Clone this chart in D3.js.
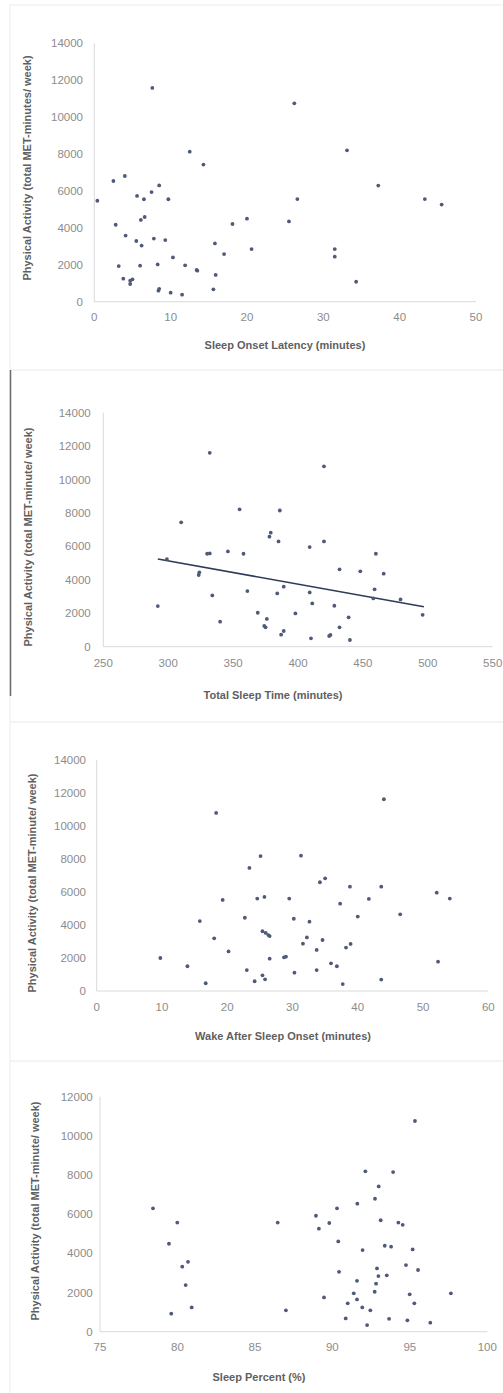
<!DOCTYPE html>
<html>
<head>
<meta charset="utf-8">
<script src="https://cdn.jsdelivr.net/npm/d3@7"></script>
<style>
  html, body { margin: 0; padding: 0; background: #fff; }
  svg { display: block; font-family: "Liberation Sans", Arial, sans-serif; }
</style>
</head>
<body>
<svg id="chart" width="503" height="1393"></svg>
<script>
// ---------- DATA ----------
// Panel 1: Sleep Onset Latency (minutes) vs Physical Activity
const solX = [0.4,2.5,4.0,2.8,4.1,3.2,3.8,4.7,4.7,5.0,5.6,5.5,6.2,6.0,6.1,6.6,6.5,7.5,7.6,7.8,8.5,8.3,8.4,8.5,9.3,9.7,10.0,10.3,11.5,11.9,12.5,13.4,13.5,14.3,15.6,15.8,15.9,17.0,18.1,20.0,20.6,25.5,26.2,26.6,31.5,31.5,33.1,34.3,37.2,43.3,45.5];
const solY = [5470,6540,6810,4170,3580,1930,1250,1140,960,1210,5730,3290,3040,1950,4430,4590,5550,5940,11580,3420,6300,2020,600,700,3340,5550,490,2400,380,1970,8130,1720,1680,7430,670,3160,1450,2580,4210,4500,2850,4350,10750,5560,2850,2440,8200,1080,6290,5560,5260];

// Panel 2: Total Sleep Time (minutes) vs Physical Activity
const tstX = [292,299,310,323.5,324,330,332,332,334,340,346,355,358,361,369,376,374,375,379,378,385,386,384,387,389,389,398,409,409,410,411,420,420,428,425,424,432,432,439,440,448,460,459,466,458,479,496];
const tstY = [2430,5240,7440,4290,4450,5560,5580,11600,3070,1500,5700,8220,5560,3330,2030,1660,1240,1160,6820,6580,6300,8150,3190,720,940,3590,1990,5960,3250,500,2590,10790,6300,2450,700,640,4630,1160,1760,400,4510,5560,3430,4370,2890,2830,1910];
// Linear trendline endpoints (as drawn in the reference)
const trendX = [292, 497];
const trendY = [5250, 2390];

// Panel 3: Wake After Sleep Onset (minutes) vs Physical Activity
const wasoX = [9.75,13.9,16.7,15.8,18.0,18.3,19.3,20.2,22.7,23.0,23.4,24.2,24.6,25.1,25.4,25.8,25.4,25.7,25.9,26.3,26.5,26.5,28.7,29.0,29.5,30.2,30.3,31.3,31.6,32.2,32.6,33.7,33.7,34.2,34.6,35.0,35.9,36.8,37.3,37.7,38.2,38.9,38.8,40.0,41.7,43.6,43.6,44.0,46.5,52.1,52.3,54.1];
const wasoY = [2000,1500,470,4240,3190,10790,5520,2400,4440,1270,7460,590,5600,8180,950,710,3620,5700,3520,3390,3330,1960,2040,2080,5600,4380,1110,8200,2870,3250,4200,1270,2490,6590,3090,6830,1680,1500,5290,420,2630,2850,6320,4510,5580,6320,690,11620,4650,5960,1780,5600];

// Panel 4: Sleep Percent (%) vs Physical Activity
const spX = [78.42,79.99,79.45,80.31,80.68,80.53,80.92,79.60,86.47,87.0,88.94,89.13,89.8,89.46,90.3,90.38,90.43,90.86,90.99,91.38,91.59,91.59,91.61,91.93,91.95,92.13,92.24,92.45,92.73,92.75,92.82,92.88,92.97,92.99,93.12,93.38,93.51,93.66,93.79,93.92,94.26,94.54,94.75,94.84,94.99,95.18,95.33,95.29,95.53,96.32,97.65];
const spY = [6300,5570,4490,3320,3570,2380,1240,920,5570,1090,5920,5260,5550,1750,6300,4610,3060,680,1450,1960,1650,2600,6540,1240,4170,8190,340,1090,2040,6790,2450,3230,2840,7420,5690,4390,2880,660,4340,8150,5570,5460,3400,580,1910,4200,10760,1450,3150,460,1960];

// Axis ticks
const xTicks1 = [0,10,20,30,40,50];
const xTicks2 = [250,300,350,400,450,500,550];
const xTicks3 = [0,10,20,30,40,50,60];
const xTicks4 = [75,80,85,90,95,100];
const yTicks14 = [0,2000,4000,6000,8000,10000,12000,14000];
const yTicks12 = [0,2000,4000,6000,8000,10000,12000];

// Titles
const xTitles = ["Sleep Onset Latency (minutes)","Total Sleep Time (minutes)","Wake After Sleep Onset (minutes)","Sleep Percent (%)"];
const yTitles = ["Physical Activity (total MET-minutes/ week)","Physical Activity (total MET-minute/ week)","Physical Activity (total MET-minute/ week)","Physical Activity (total MET-minute/ week)"];

// ---------- LAYOUT ----------
const svg = d3.select("#chart");
const panels = [
  {xs: solX, ys: solY, xd:[0,50], yd:[0,14000], xt:xTicks1, yt:yTicks14, x0:94.3, x1:476, y0:301.7, y1:43.3,
   ylabR:83, xlabY:321, xtitle:xTitles[0], ytitle:yTitles[0], xtX:285, xtY:349, ytX:27, ytY:168},
  {xs: tstX, ys: tstY, xd:[250,550], yd:[0,14000], xt:xTicks2, yt:yTicks14, x0:103.3, x1:492.7, y0:646.7, y1:412.7,
   ylabR:90.7, xlabY:666.5, xtitle:xTitles[1], ytitle:yTitles[1], xtX:273, xtY:699, ytX:28, ytY:537, trend:true},
  {xs: wasoX, ys: wasoY, xd:[0,60], yd:[0,14000], xt:xTicks3, yt:yTicks14, x0:96.7, x1:488.3, y0:991, y1:760,
   ylabR:86, xlabY:1010.5, xtitle:xTitles[2], ytitle:yTitles[2], xtX:283, xtY:1040, ytX:32, ytY:883},
  {xs: spX, ys: spY, xd:[75,100], yd:[0,12000], xt:xTicks4, yt:yTicks12, x0:100, x1:487.3, y0:1331.7, y1:1096.7,
   ylabR:92.7, xlabY:1351, xtitle:xTitles[3], ytitle:yTitles[3], xtX:259, xtY:1380.5, ytX:35, ytY:1211}
];

// Panel frames / separators
const frame = svg.append("g");
frame.append("line").attr("x1",10).attr("x2",503).attr("y1",5).attr("y2",5).attr("stroke","#ececec");
[370, 722, 1061].forEach(y => {
  frame.append("line").attr("x1",10).attr("x2",503).attr("y1",y).attr("y2",y).attr("stroke","#e8e8e8");
});
frame.append("line").attr("x1",10).attr("x2",10).attr("y1",5).attr("y2",1393).attr("stroke","#ececec");
frame.append("line").attr("x1",10.5).attr("x2",10.5).attr("y1",370).attr("y2",696).attr("stroke","#6a6a6a").attr("stroke-width",1.5);

panels.forEach(p => {
  const g = svg.append("g");
  const x = d3.scaleLinear().domain(p.xd).range([p.x0, p.x1]);
  const y = d3.scaleLinear().domain(p.yd).range([p.y0, p.y1]);

  // axes lines
  g.append("line").attr("x1",p.x0).attr("x2",p.x0).attr("y1",p.y1).attr("y2",p.y0).attr("stroke","#d9d9d9");
  g.append("line").attr("x1",p.x0).attr("x2",p.x1).attr("y1",p.y0).attr("y2",p.y0).attr("stroke","#d9d9d9");

  // y tick labels
  g.selectAll(".yl").data(p.yt).enter().append("text")
    .attr("x", p.ylabR).attr("y", d => y(d)).attr("dy","0.35em")
    .attr("text-anchor","end").attr("font-size","11.5px").attr("fill","#8c8c8c")
    .text(d => d);

  // x tick labels
  g.selectAll(".xl").data(p.xt).enter().append("text")
    .attr("x", d => x(d)).attr("y", p.xlabY)
    .attr("text-anchor","middle").attr("font-size","11.5px").attr("fill","#8c8c8c")
    .text(d => d);

  // titles
  g.append("text").attr("x", p.xtX).attr("y", p.xtY).attr("text-anchor","middle")
    .attr("font-size","11px").attr("font-weight","bold").attr("fill","#5f5f5f").text(p.xtitle);
  g.append("text").attr("transform", `translate(${p.ytX},${p.ytY}) rotate(-90)`)
    .attr("text-anchor","middle").attr("dy","0.35em")
    .attr("font-size","11px").attr("font-weight","bold").attr("fill","#5f5f5f").text(p.ytitle);

  // trendline
  if (p.trend) {
    const pts = trendX.map((v,i) => [v, trendY[i]]);
    g.append("path").datum(pts)
      .attr("d", d3.line().x(d => x(d[0])).y(d => y(d[1])))
      .attr("stroke","#2e3b58").attr("stroke-width",1.6).attr("fill","none");
  }

  // points
  const data = p.xs.map((v,i) => [v, p.ys[i]]);
  g.selectAll("circle").data(data).enter().append("circle")
    .attr("cx", d => x(d[0])).attr("cy", d => y(d[1])).attr("r", 1.9)
    .attr("fill","#4f5a78");
});
</script>
</body>
</html>
